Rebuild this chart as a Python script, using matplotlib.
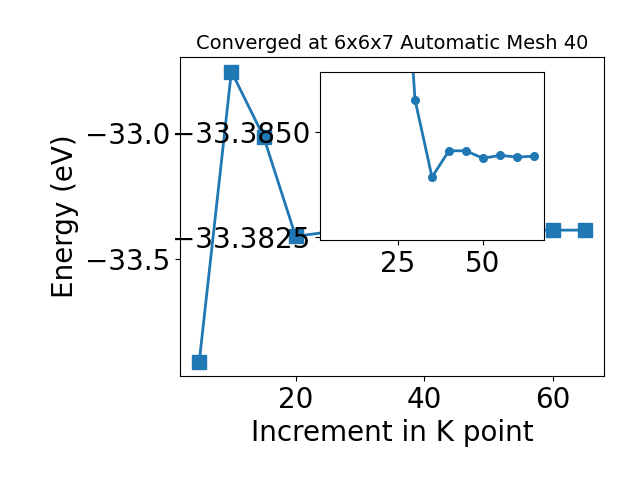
import matplotlib
matplotlib.use("Agg")
import matplotlib.pyplot as plt

kpoints = [5, 10, 15, 20, 25, 30, 35, 40, 45, 50, 55, 60, 65]
energies = [-33.9056, -32.755, -33.013, -33.409, -33.392,
            -33.38578, -33.38393, -33.38456, -33.38456,
            -33.38438, -33.38445, -33.38441, -33.38443]
inset_start = 4  # inset shows points from 25 k-points on

main_xticks = [20, 40, 60]
main_yticks = [-33.5, -33.0]
inset_xticks = [25, 50]
inset_yticks = [-33.3850, -33.3825]
inset_ylim = (-33.38242, -33.38645)  # inverted axis

fig = plt.figure(figsize=(6.4, 4.8), dpi=100)
ax = fig.add_axes([180/640, 1-376/480, 424/640, 319/480])
ax.plot(kpoints, energies, marker='s', markersize=10, linewidth=2, color='#1f77b4')
ax.set_xticks(main_xticks)
ax.set_yticks(main_yticks)
ax.tick_params(labelsize=20)
ax.set_xlabel('Increment in K point', fontsize=20)
ax.set_ylabel('Energy (eV)', fontsize=20)
ax.set_title('Converged at 6x6x7 Automatic Mesh 40', fontsize=14)

axins = fig.add_axes([0.5, 0.5, 0.35, 0.35])
axins.plot(kpoints[inset_start:], energies[inset_start:], marker='o', markersize=5.5,
           linewidth=2, color='#1f77b4')
axins.set_xlim(ax.get_xlim())
axins.set_ylim(*inset_ylim)
axins.set_xticks(inset_xticks)
axins.set_yticks(inset_yticks)
axins.set_yticklabels([f"{v:.4f}".replace('-', '\u2212') for v in inset_yticks])
axins.tick_params(labelsize=20)

fig.savefig('out.png', dpi=100)
